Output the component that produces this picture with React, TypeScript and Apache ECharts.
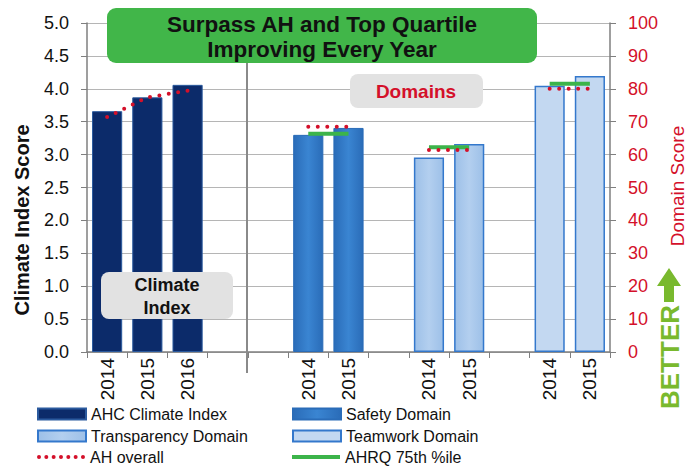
import React, { useEffect, useRef } from "react";
import * as echarts from "echarts";

// ---- data ----
const climateYears = ["2014", "2015", "2016"];
const domainYears = ["2014", "2015"];
const climateIndex = [3.66, 3.87, 4.06];
const ahOverallClimate = [3.57, 3.87, 3.97];
const safetyDomain = [66.0, 68.1];
const transparencyDomain = [59.1, 63.2];
const teamworkDomain = [80.9, 83.9];
// per domain (Safety, Transparency, Teamwork)
const ahOverallDomains = [68.5, 61.4, 80.0];
const ahrq75th = [66.3, 62.2, 81.5];
const leftTicks = { min: 0, max: 5, interval: 0.5 };
const rightTicks = { min: 0, max: 100, interval: 10 };

const FONT = "Liberation Sans, Arial, sans-serif";
const RED = "#d4102a";
const GREEN_TXT = "#79b92e";

// build category layout: climate(3) + 2 gaps + safety(2) + gap + transparency(2) + gap + teamwork(2)
const categories: string[] = [
  ...climateYears,
  "",
  "",
  ...domainYears,
  "",
  ...domainYears,
  "",
  ...domainYears,
];
const N = categories.length;
const climateStart = 0;
const domainStarts = [5, 8, 11];

function place(values: number[], start: number): (number | null)[] {
  const arr: (number | null)[] = new Array(N).fill(null);
  values.forEach((v, i) => (arr[start + i] = v));
  return arr;
}
function placeConst(values: number[]): (number | null)[] {
  const arr: (number | null)[] = new Array(N).fill(null);
  values.forEach((v, d) => {
    domainYears.forEach((_, i) => (arr[domainStarts[d] + i] = v));
  });
  return arr;
}

// dotted legend icon: 7 round dots
const dotsIcon =
  "path://" +
  Array.from({ length: 7 })
    .map((_, i) => {
      const cx = 2 + i * 7.33;
      return `M${(cx - 2).toFixed(2)} 2a2 2 0 1 0 4 0a2 2 0 1 0 -4 0Z`;
    })
    .join("");

export default function App() {
  const ref = useRef<HTMLDivElement>(null);
  useEffect(() => {
    document.body.style.margin = "0";
    if (!ref.current) return;
    const chart = echarts.init(ref.current, null, { renderer: "svg" });
    const dotted = {
      color: RED,
      width: 4,
      type: [0, 9.5] as any,
      cap: "round" as any,
    };
    const legendBase = {
      itemWidth: 48,
      itemHeight: 11,
      itemGap: 0,
      padding: 0,
      selectedMode: false,
      textStyle: { fontSize: 16, color: "#111", fontFamily: FONT },
    };
    const option: any = {
      animation: false,
      textStyle: { fontFamily: FONT },
      grid: { left: 87, right: 84, top: 23, bottom: 120, containLabel: false },
      legend: [
        { ...legendBase, left: 37, top: 406, data: [{ name: "AHC Climate Index", icon: "rect" }] },
        { ...legendBase, left: 292, top: 406, data: [{ name: "Safety Domain", icon: "rect" }] },
        { ...legendBase, left: 37, top: 428, data: [{ name: "Transparency Domain", icon: "rect" }] },
        { ...legendBase, left: 292, top: 428, data: [{ name: "Teamwork Domain", icon: "rect" }] },
        {
          ...legendBase,
          left: 37,
          top: 449,
          itemHeight: 4,
          itemStyle: { borderWidth: 0 },
          data: [{ name: "AH overall", icon: dotsIcon }],
        },
        {
          ...legendBase,
          left: 292,
          top: 449,
          itemHeight: 4,
          itemStyle: { borderWidth: 0 },
          data: [{ name: "AHRQ 75th %ile", icon: "rect" }],
        },
      ],
      xAxis: {
        type: "category",
        data: categories,
        axisLine: { lineStyle: { color: "#7f7f7f", width: 1.5 } },
        axisTick: { show: true, length: 6, lineStyle: { color: "#7f7f7f" } },
        axisLabel: {
          rotate: 90,
          interval: 0,
          margin: 6,
          fontSize: 19,
          color: "#111",
          fontFamily: FONT,
        },
      },
      yAxis: [
        {
          type: "value",
          ...leftTicks,
          axisLine: { show: true, lineStyle: { color: "#7f7f7f", width: 1.5 } },
          axisTick: { show: true, length: 6, lineStyle: { color: "#7f7f7f" } },
          axisLabel: {
            margin: 18,
            fontSize: 18,
            color: "#111",
            fontFamily: FONT,
            formatter: (v: number) => v.toFixed(1),
          },
          splitLine: { show: true, lineStyle: { color: "#b5b5b5", width: 1 } },
        },
        {
          type: "value",
          ...rightTicks,
          position: "right",
          axisLine: { show: true, lineStyle: { color: "#7f7f7f", width: 1.5 } },
          axisTick: { show: true, length: 6, lineStyle: { color: "#7f7f7f" } },
          axisLabel: { margin: 18, fontSize: 18, color: RED, fontFamily: FONT },
          splitLine: { show: false },
        },
      ],
      series: [
        {
          name: "AHC Climate Index",
          type: "bar",
          yAxisIndex: 0,
          barWidth: "75%",
          barGap: "-100%",
          data: place(climateIndex, climateStart),
          itemStyle: { color: "#0c2b6a", borderColor: "#2b5a9e", borderWidth: 1 },
        },
        {
          name: "Safety Domain",
          type: "bar",
          yAxisIndex: 1,
          barWidth: "75%",
          barGap: "-100%",
          data: place(safetyDomain, domainStarts[0]),
          itemStyle: {
            color: new echarts.graphic.LinearGradient(0, 0, 1, 0, [
              { offset: 0, color: "#2a6cb8" },
              { offset: 0.5, color: "#3a85d2" },
              { offset: 1, color: "#2a6cb8" },
            ]),
            borderColor: "#2a6cb8",
            borderWidth: 1,
          },
        },
        {
          name: "Transparency Domain",
          type: "bar",
          yAxisIndex: 1,
          barWidth: "75%",
          barGap: "-100%",
          data: place(transparencyDomain, domainStarts[1]),
          itemStyle: {
            color: new echarts.graphic.LinearGradient(0, 0, 1, 0, [
              { offset: 0, color: "#9dc0e8" },
              { offset: 0.5, color: "#b3cfef" },
              { offset: 1, color: "#9dc0e8" },
            ]),
            borderColor: "#3478cc",
            borderWidth: 1.5,
          },
        },
        {
          name: "Teamwork Domain",
          type: "bar",
          yAxisIndex: 1,
          barWidth: "75%",
          barGap: "-100%",
          data: place(teamworkDomain, domainStarts[2]),
          itemStyle: {
            color: "#c3d8f1",
            borderColor: "#3478cc",
            borderWidth: 1.5,
          },
        },
        {
          name: "AHRQ 75th %ile",
          type: "line",
          yAxisIndex: 1,
          symbol: "none",
          connectNulls: false,
          data: placeConst(ahrq75th),
          lineStyle: { color: "#3cb44a", width: 4 },
          itemStyle: { color: "#3cb44a" },
          z: 5,
        },
        {
          name: "AH overall",
          type: "line",
          yAxisIndex: 0,
          symbol: "none",
          data: place(ahOverallClimate, climateStart),
          lineStyle: dotted,
          itemStyle: { color: RED },
          z: 6,
        },
        {
          name: "AH overall",
          type: "line",
          yAxisIndex: 1,
          symbol: "none",
          connectNulls: false,
          data: placeConst(ahOverallDomains),
          lineStyle: dotted,
          itemStyle: { color: RED },
          z: 6,
        },
      ],
      graphic: [
        {
          type: "line",
          z: 50,
          shape: { x1: 247, y1: 23, x2: 247, y2: 373 },
          style: { stroke: "#8a8a8a", lineWidth: 2 },
        },
        {
          type: "rect",
          z: 100,
          shape: { x: 107, y: 8, width: 430, height: 55, r: 9 },
          style: { fill: "#41b649" },
        },
        {
          type: "text",
          z: 101,
          x: 322,
          y: 24,
          style: {
            text: "Surpass AH and Top Quartile",
            textAlign: "center",
            textVerticalAlign: "middle",
            fontSize: 22.5,
            fontWeight: "bold",
            fontFamily: FONT,
            fill: "#111",
          },
        },
        {
          type: "text",
          z: 101,
          x: 322,
          y: 49,
          style: {
            text: "Improving Every Year",
            textAlign: "center",
            textVerticalAlign: "middle",
            fontSize: 22.5,
            fontWeight: "bold",
            fontFamily: FONT,
            fill: "#111",
          },
        },
        {
          type: "rect",
          z: 100,
          shape: { x: 350, y: 74, width: 133, height: 34, r: 8 },
          style: { fill: "#e2e2e2" },
        },
        {
          type: "text",
          z: 101,
          x: 416,
          y: 91,
          style: {
            text: "Domains",
            textAlign: "center",
            textVerticalAlign: "middle",
            fontSize: 19,
            fontWeight: "bold",
            fontFamily: FONT,
            fill: RED,
          },
        },
        {
          type: "rect",
          z: 100,
          shape: { x: 101, y: 272, width: 132, height: 47, r: 8 },
          style: { fill: "#e2e2e2" },
        },
        {
          type: "text",
          z: 101,
          x: 167,
          y: 285,
          style: {
            text: "Climate",
            textAlign: "center",
            textVerticalAlign: "middle",
            fontSize: 18,
            fontWeight: "bold",
            fontFamily: FONT,
            fill: "#111",
          },
        },
        {
          type: "text",
          z: 101,
          x: 167,
          y: 308,
          style: {
            text: "Index",
            textAlign: "center",
            textVerticalAlign: "middle",
            fontSize: 18,
            fontWeight: "bold",
            fontFamily: FONT,
            fill: "#111",
          },
        },
        {
          type: "text",
          z: 101,
          x: 22,
          y: 220,
          rotation: Math.PI / 2,
          style: {
            text: "Climate Index Score",
            textAlign: "center",
            textVerticalAlign: "middle",
            fontSize: 20,
            fontWeight: "bold",
            fontFamily: FONT,
            fill: "#111",
          },
        },
        {
          type: "text",
          z: 101,
          x: 677,
          y: 186,
          rotation: Math.PI / 2,
          style: {
            text: "Domain Score",
            textAlign: "center",
            textVerticalAlign: "middle",
            fontSize: 19,
            fontFamily: FONT,
            fill: RED,
          },
        },
        {
          type: "polygon",
          z: 101,
          shape: {
            points: [
              [669, 268],
              [681, 286],
              [674, 286],
              [674, 302],
              [664, 302],
              [664, 286],
              [657, 286],
            ],
          },
          style: { fill: GREEN_TXT },
        },
        {
          type: "text",
          z: 101,
          x: 670,
          y: 357,
          rotation: Math.PI / 2,
          style: {
            text: "BETTER",
            textAlign: "center",
            textVerticalAlign: "middle",
            fontSize: 26,
            fontWeight: "bold",
            fontFamily: FONT,
            fill: GREEN_TXT,
          },
        },
      ],
    };
    chart.setOption(option);
    return () => chart.dispose();
  }, []);
  return <div ref={ref} style={{ width: 694, height: 472 }} />;
}
